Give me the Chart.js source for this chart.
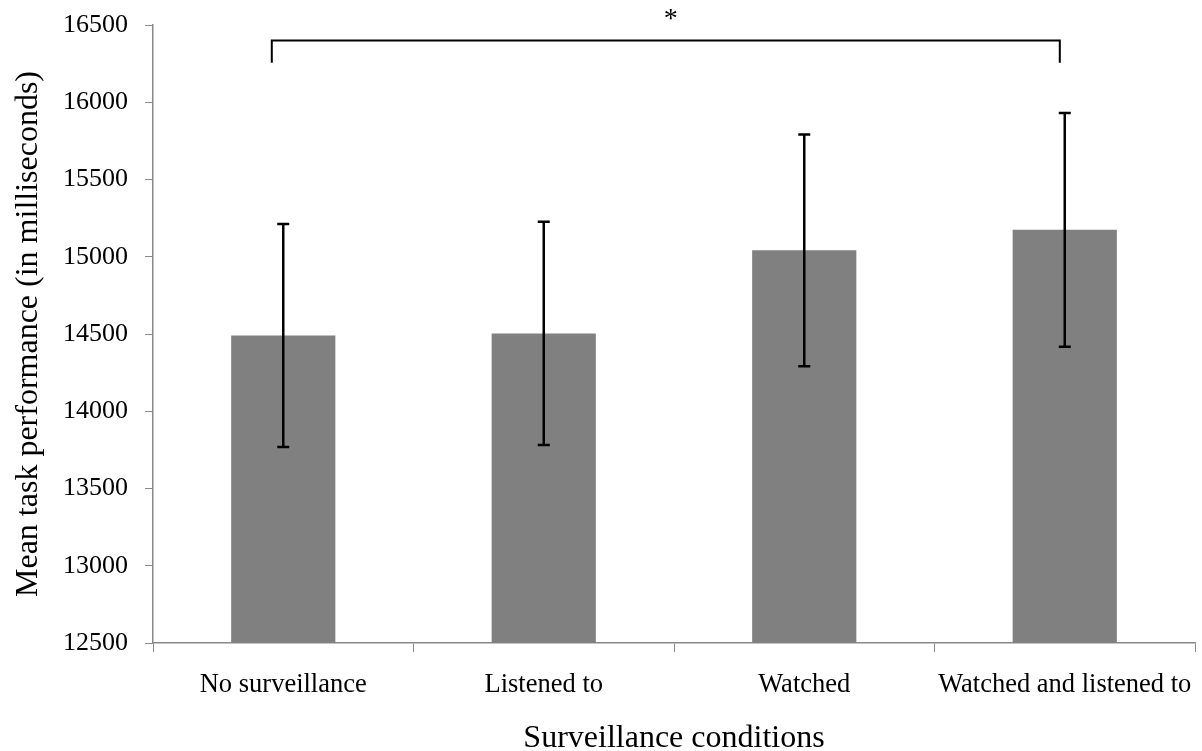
<!DOCTYPE html>
<html>
<head>
<meta charset="utf-8">
<script src="https://cdn.jsdelivr.net/npm/chart.js@4/dist/chart.umd.min.js"></script>
<style>
  html, body { margin: 0; padding: 0; background: #ffffff; }
  #wrap { width: 1202px; height: 751px; position: relative; }
</style>
</head>
<body>
<div id="wrap"><canvas id="chart"></canvas></div>
<script>
// Surveillance conditions and mean task time (ms) with error bar half-widths
const categories = ['No surveillance', 'Listened to', 'Watched', 'Watched and listened to'];
const meanTimes = [14490, 14504, 15042, 15174];
const errorHalf = [722, 723, 750, 757];
const yTicks = [12500, 13000, 13500, 14000, 14500, 15000, 15500, 16000, 16500];

// Significance bracket between the first and last condition (category index, value units)
const bracketFrom = [-0.044, 2.981];
const bracketLevel = 16400;
const bracketFoot = 16255;
const bracketLabel = '*';

const serif = "'Liberation Serif', 'Times New Roman', serif";

const errorBars = {
  id: 'errorBars',
  afterDatasetsDraw(chart) {
    const ctx = chart.ctx;
    const y = chart.scales.y;
    const meta = chart.getDatasetMeta(0);
    ctx.save();
    ctx.strokeStyle = '#000000';
    ctx.lineWidth = 2.5;
    meta.data.forEach((bar, i) => {
      const hi = y.getPixelForValue(meanTimes[i] + errorHalf[i]);
      const lo = y.getPixelForValue(meanTimes[i] - errorHalf[i]);
      const x = bar.x;
      const cap = 6;
      ctx.beginPath();
      ctx.moveTo(x, hi); ctx.lineTo(x, lo);
      ctx.moveTo(x - cap, hi); ctx.lineTo(x + cap, hi);
      ctx.moveTo(x - cap, lo); ctx.lineTo(x + cap, lo);
      ctx.stroke();
    });
    ctx.restore();
  }
};

const bracket = {
  id: 'bracket',
  afterDraw(chart) {
    const ctx = chart.ctx;
    const xs = chart.scales.x, ys = chart.scales.y;
    const x1 = xs.getPixelForValue(bracketFrom[0]);
    const x2 = xs.getPixelForValue(bracketFrom[1]);
    const top = ys.getPixelForValue(bracketLevel);
    const foot = ys.getPixelForValue(bracketFoot);
    ctx.save();
    ctx.strokeStyle = '#000000';
    ctx.lineWidth = 2;
    ctx.lineJoin = 'miter';
    ctx.beginPath();
    ctx.moveTo(x1, foot);
    ctx.lineTo(x1, top);
    ctx.lineTo(x2, top);
    ctx.lineTo(x2, foot);
    ctx.stroke();
    ctx.fillStyle = '#000000';
    ctx.font = '28px ' + serif;
    ctx.textAlign = 'center';
    ctx.textBaseline = 'alphabetic';
    ctx.fillText(bracketLabel, (x1 + x2) / 2 + 5, top - 13);
    ctx.restore();
  }
};

new Chart(document.getElementById('chart'), {
  type: 'bar',
  data: {
    labels: categories,
    datasets: [{
      data: meanTimes,
      backgroundColor: '#808080',
      borderWidth: 0,
      categoryPercentage: 1.0,
      barPercentage: 0.4
    }]
  },
  options: {
    responsive: true,
    maintainAspectRatio: false,
    animation: false,
    events: [],
    layout: { padding: { left: 0, right: 7, top: 25, bottom: 0 } },
    plugins: {
      legend: { display: false },
      tooltip: { enabled: false }
    },
    scales: {
      x: {
        grid: {
          offset: true,
          drawOnChartArea: false,
          drawTicks: true,
          tickLength: 9,
          color: '#898989',
          lineWidth: 1
        },
        border: { color: '#898989', width: 1.5 },
        ticks: {
          color: '#000000',
          font: { family: serif, size: 26.5 },
          padding: 17,
          maxRotation: 0,
          autoSkip: false
        },
        title: {
          display: true,
          text: 'Surveillance conditions',
          color: '#000000',
          font: { family: serif, size: 32, lineHeight: 0.8 },
          padding: { top: 0, bottom: 0 }
        },
        afterFit(scale) {
          scale.height = 108;
          scale.paddingLeft = 0;
          scale.paddingRight = 0;
        }
      },
      y: {
        min: 12500,
        max: 16500,
        afterBuildTicks(scale) { scale.ticks = yTicks.map(v => ({ value: v })); },
        grid: {
          drawOnChartArea: false,
          drawTicks: true,
          tickLength: 8,
          color: '#898989',
          lineWidth: 1
        },
        border: { color: '#898989', width: 1.5 },
        ticks: {
          color: '#000000',
          font: { family: serif, size: 26 },
          padding: 17,
          callback: (v) => String(v)
        },
        title: {
          display: true,
          text: 'Mean task performance (in milliseconds)',
          color: '#000000',
          font: { family: serif, size: 32 },
          padding: { top: 9, bottom: 0 }
        },
        afterFit(scale) {
          scale.width = 153;
          scale.paddingTop = 0;
          scale.paddingBottom = 0;
        }
      }
    }
  },
  plugins: [errorBars, bracket]
});
</script>
</body>
</html>
